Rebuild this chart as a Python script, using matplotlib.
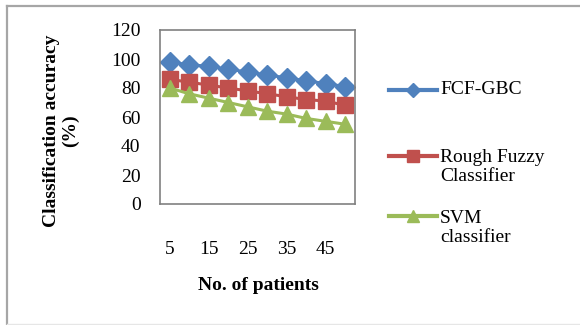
import matplotlib
matplotlib.use("Agg")
import matplotlib.pyplot as plt
from matplotlib.lines import Line2D

patients = [5, 10, 15, 20, 25, 30, 35, 40, 45, 50]
fcf_gbc = [98, 96, 95, 93, 91, 89, 87, 85, 83, 81]
rough_fuzzy = [86, 84, 82, 80, 78, 76, 74, 72, 71, 68]
svm = [80, 76, 73, 70, 67, 64, 62, 59, 57, 55]
tick_labels = ["5", "", "15", "", "25", "", "35", "", "45", ""]
series_names = ["FCF-GBC", "Rough Fuzzy\nClassifier", "SVM\nclassifier"]
colors = ["#4F81BD", "#C0504D", "#9BBB59"]
markers = ["D", "s", "^"]

plt.rcParams['font.family'] = ['Liberation Serif', 'DejaVu Serif']
FS = 14

W, H = 580, 325
fig = plt.figure(figsize=(W / 100, H / 100), dpi=100)

# outer frame (top/left gray, faint bottom)
fig.add_artist(Line2D([6.5 / W, 1], [1 - 5.5 / H, 1 - 5.5 / H], color="#a6a6a6", lw=1.6, transform=fig.transFigure))
fig.add_artist(Line2D([6.5 / W, 6.5 / W], [1 - 5.5 / H, 0], color="#a6a6a6", lw=1.6, transform=fig.transFigure))
fig.add_artist(Line2D([6.5 / W, 1], [1.5 / H, 1.5 / H], color="#e6e6e6", lw=1, transform=fig.transFigure))

ax = fig.add_axes([160 / W, 1 - 204 / H, 195 / W, 174 / H])
x = list(range(len(patients)))
for vals, c, m in zip([fcf_gbc, rough_fuzzy, svm], colors, markers):
    ms = 10.5 if m == "D" else 11
    ax.plot(x, vals, color=c, marker=m, markersize=ms, lw=2.2, clip_on=False)

ax.set_xlim(-0.5, len(patients) - 0.5)
ax.set_ylim(0, 120)
ax.set_yticks(range(0, 121, 20))
ax.set_xticks(x)
ax.set_xticklabels(tick_labels)
ax.tick_params(axis="both", length=0, labelsize=FS)
ax.tick_params(axis="x", pad=27)
ax.tick_params(axis="y", pad=14)
for s in ax.spines.values():
    s.set_color("#808080")
    s.set_linewidth(1.2)

fig.text(258 / W, 1 - 285 / H, "No. of patients", ha="center", va="center",
         fontsize=FS, fontweight="bold")
fig.text(61 / W, 1 - 131 / H, "Classification accuracy\n(%)", ha="center", va="center",
         rotation=90, fontsize=FS, fontweight="bold", linespacing=1.1)

# legend drawn manually
leg_y = [90, 156, 216]
txt_y = [90, 167, 228]
for c, m, ly, ty, name in zip(colors, markers, leg_y, txt_y, series_names):
    yy = 1 - ly / H
    fig.add_artist(Line2D([389 / W, 437 / W], [yy, yy], color=c, lw=3, transform=fig.transFigure))
    fig.add_artist(Line2D([413 / W], [yy], color=c, marker=m, markersize=7 if m == "D" else 8,
                          lw=0, transform=fig.transFigure))
    fig.text(440 / W, 1 - ty / H, name, ha="left", va="center", fontsize=FS, linespacing=1.2)

fig.savefig("out.png", dpi=100)
